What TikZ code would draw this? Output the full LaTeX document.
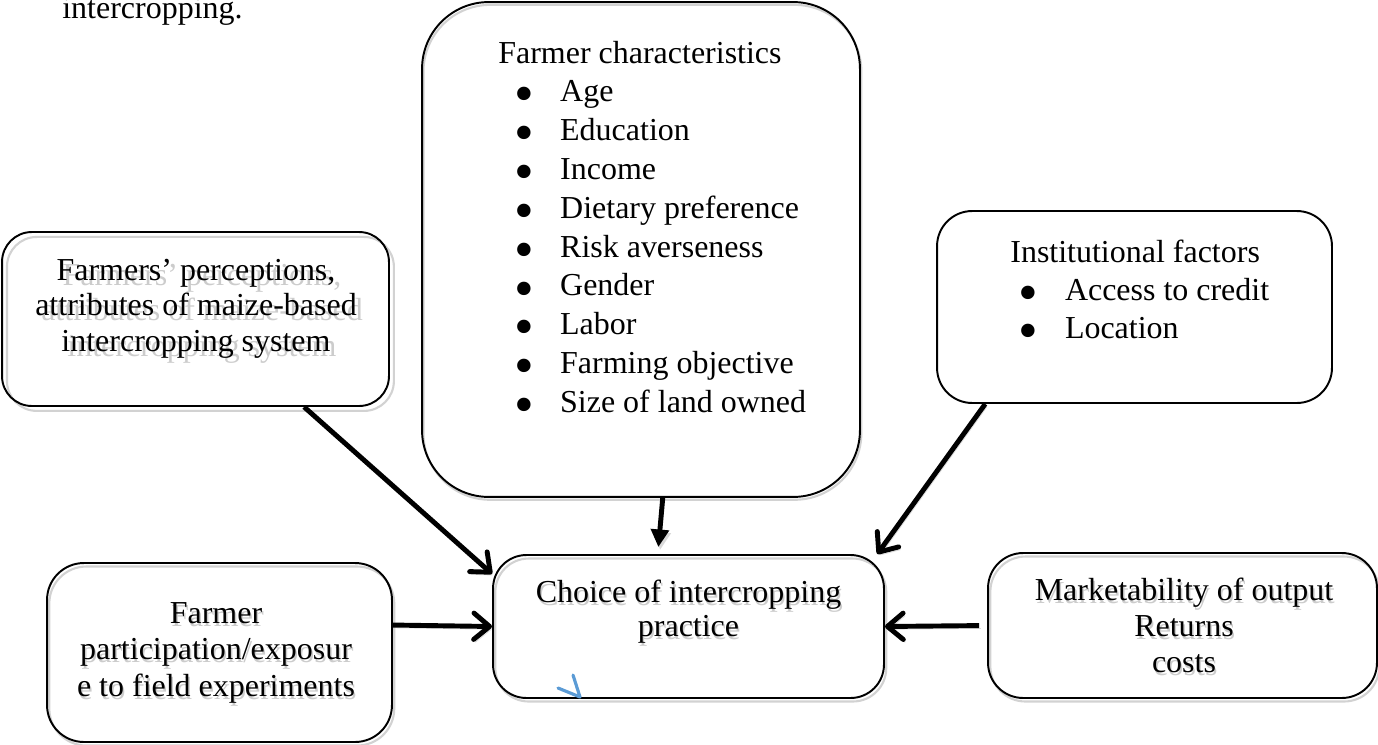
\documentclass[tikz,border=0pt]{standalone}
\usepackage{fontspec}
\setmainfont{Liberation Serif}
\usetikzlibrary{arrows.meta}

\definecolor{markblue}{RGB}{91,155,213}
\newcommand{\bigdot}{\raisebox{-6.3pt}{\fontsize{32}{32}\selectfont•}}

\begin{document}
\begin{tikzpicture}[
  x=0.02cm, y=-0.02cm,
  %% style definitions
  box/.style    = {draw, line width=1.1pt, rounded corners=#1, inner sep=0pt},
  box/.default  = 19pt,
  bshad/.style  = {preaction={draw=gray!35, line width=1.2pt,
                   transform canvas={shift={(#1)}}}},
  bshad/.default= {1.3pt,-2pt},
  txt/.style    = {inner sep=0pt, anchor=base, font=\fontsize{18.2}{#1}\selectfont},
  txt/.default  = 20.4pt,
  tshad/.style  = {text=gray!40},
  arr/.style    = {line width=2.8pt, -{Straight Barb[length=9pt, width=15pt, round]},
                   preaction={draw=gray!30, transform canvas={shift={(1pt,-1.6pt)}}}},
  tarr/.style   = {line width=2.8pt, -{Triangle[length=10pt, width=10pt]},
                   preaction={draw=gray!30, transform canvas={shift={(1pt,-1.6pt)}}}},
]
\useasboundingbox (0,0) rectangle (1378,744);

%% ── Caption fragment ─────────────────────────────────────────────────────────
\node[txt, anchor=base west] (capt) at (62,18) {intercropping.};

%% ── Boxes ────────────────────────────────────────────────────────────────────
\node[box=38pt, bshad={0.8pt,-1.6pt}, minimum width=8.76cm, minimum height=9.9cm]
  (fc) at (641,249.5) {};
\node[box=17pt, bshad={2.8pt,-2.8pt}, minimum width=7.74cm, minimum height=3.48cm]
  (fp) at (195.5,319) {};
\node[box=20pt, minimum width=7.9cm, minimum height=3.84cm]
  (inst) at (1134.5,307) {};
\node[box=19pt, bshad, minimum width=7.82cm, minimum height=2.86cm]
  (ch) at (688.5,626.5) {};
\node[box=21pt, bshad, minimum width=6.9cm, minimum height=3.58cm]
  (fpart) at (219.5,652.5) {};
\node[box=20pt, bshad, minimum width=7.78cm, minimum height=2.9cm]
  (mk) at (1182.5,625.5) {};

%% ── Box texts ────────────────────────────────────────────────────────────────
\node[txt=22.1pt, anchor=base west] (fc-t) at (498,63)
  {\begin{tabular}[t]{@{}l@{}}
   Farmer characteristics\\
   \hspace*{9.4pt}\makebox[25.8pt][l]{\bigdot}Age\\
   \hspace*{9.4pt}\makebox[25.8pt][l]{\bigdot}Education\\
   \hspace*{9.4pt}\makebox[25.8pt][l]{\bigdot}Income\\
   \hspace*{9.4pt}\makebox[25.8pt][l]{\bigdot}Dietary preference\\
   \hspace*{9.4pt}\makebox[25.8pt][l]{\bigdot}Risk averseness\\
   \hspace*{9.4pt}\makebox[25.8pt][l]{\bigdot}Gender\\
   \hspace*{9.4pt}\makebox[25.8pt][l]{\bigdot}Labor\\
   \hspace*{9.4pt}\makebox[25.8pt][l]{\bigdot}Farming objective\\
   \hspace*{9.4pt}\makebox[25.8pt][l]{\bigdot}Size of land owned
   \end{tabular}};

\node[txt=21.8pt, anchor=base west] (inst-t) at (1010,262)
  {\begin{tabular}[t]{@{}l@{}}
   Institutional factors\\
   \hspace*{4.5pt}\makebox[26.6pt][l]{\bigdot}Access to credit\\
   \hspace*{4.5pt}\makebox[26.6pt][l]{\bigdot}Location
   \end{tabular}};

\node[txt, tshad] (fp-s) at ([shift={(6,5)}]196,280)
  {\begin{tabular}[t]{@{}c@{}}Farmers’ perceptions,\\attributes of maize-based\\intercropping system\end{tabular}};
\node[txt] (fp-t) at (196,280)
  {\begin{tabular}[t]{@{}c@{}}Farmers’ perceptions,\\attributes of maize-based\\intercropping system\end{tabular}};

\node[txt=19.8pt, tshad] (ch-s) at ([shift={(1.5,3)}]688.5,602)
  {\begin{tabular}[t]{@{}c@{}}Choice of intercropping\\practice\end{tabular}};
\node[txt=19.8pt] (ch-t) at (688.5,602)
  {\begin{tabular}[t]{@{}c@{}}Choice of intercropping\\practice\end{tabular}};

\node[txt=21pt, tshad] (fpart-s) at ([shift={(1.5,3)}]216,623)
  {\begin{tabular}[t]{@{}c@{}}Farmer\\participation/exposur\\e to field experiments\end{tabular}};
\node[txt=21pt] (fpart-t) at (216,623)
  {\begin{tabular}[t]{@{}c@{}}Farmer\\participation/exposur\\e to field experiments\end{tabular}};

\node[txt=20.7pt, tshad] (mk-s) at ([shift={(1.5,3)}]1184,600)
  {\begin{tabular}[t]{@{}c@{}}Marketability of output\\Returns\\costs\end{tabular}};
\node[txt=20.7pt] (mk-t) at (1184,600)
  {\begin{tabular}[t]{@{}c@{}}Marketability of output\\Returns\\costs\end{tabular}};

%% ── Arrows into the choice box ───────────────────────────────────────────────
\draw[arr]  (fp.-39.8)     -- (ch.165.3);
\draw[tarr, shorten >=4pt] (fc.-85.6) -- (ch.113.1);
\draw[arr]  (inst.-147.8)  -- (ch.21.5);
\draw[arr]  (fpart.9)      -- (ch.west);
\draw[arr, shorten <=4.5pt] (mk.west) -- (ch.east);

%% ── Stray blue mark ──────────────────────────────────────────────────────────
\draw[markblue, line width=1.8pt, line cap=round, line join=round]
  (558,688) -- (580,697) -- (573,675);

\end{tikzpicture}
\end{document}
